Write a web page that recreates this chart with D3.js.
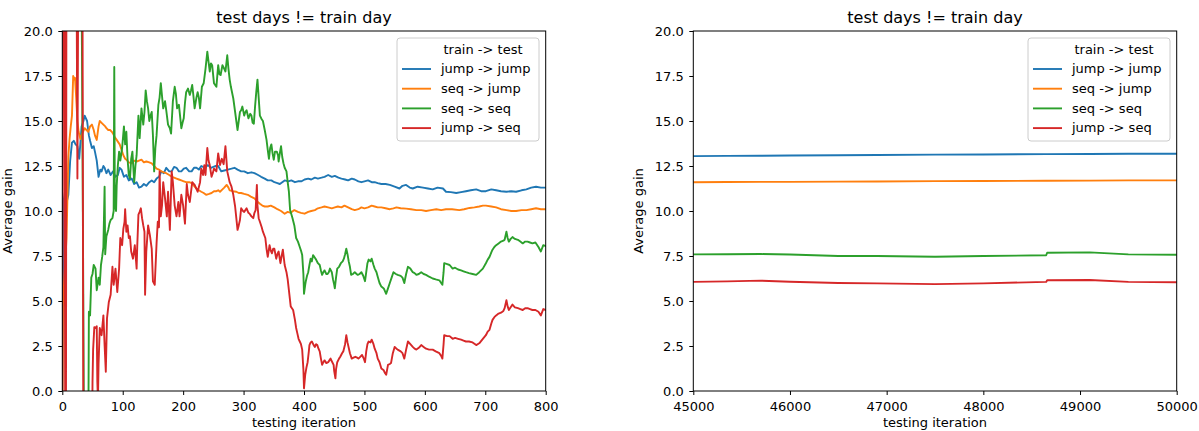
<!DOCTYPE html>
<html><head><meta charset="utf-8">
<script src="https://cdn.jsdelivr.net/npm/d3@7"></script>
<style>
body{margin:0;background:#fff;}
text{font-family:"DejaVu Sans",sans-serif;}
</style></head>
<body><svg id="chart" width="1199" height="431"></svg>
<script>
// ---------- DATA ----------
const seriesNames = ["jump -> jump", "seq -> jump", "seq -> seq", "jump -> seq"];
const seriesColors = ["#1f77b4", "#ff7f0e", "#2ca02c", "#d62728"];
const legendTitle = "train -> test";
const plotTitle = "test days != train day";
const xLabel = "testing iteration";
const yLabel = "Average gain";
const yTicks = [0, 2.5, 5, 7.5, 10, 12.5, 15, 17.5, 20];
const leftXTicks = [0, 100, 200, 300, 400, 500, 600, 700, 800];
const rightXTicks = [45000, 46000, 47000, 48000, 49000, 50000];

// left panel: [iteration, average gain]
const leftJumpJump = [[0,-1],[1,5.0],[2,10.5],[5,11.2],[8,10.6],[10,10.9],[13,12.8],[16,13.8],[19,13.9],[22,13.7],[25,13.6],[28,12.9],[32,14.7],[35,15.0],[37,15.3],[41,15.0],[44,14.2],[46,13.9],[49,13.5],[52,13.6],[54,13.3],[57,12.8],[60,11.9],[63,12.3],[65,12.2],[68,12.5],[70,12.4],[73,12.1],[76,12.3],[80,12.0],[84,12.2],[88,11.9],[92,12.0],[95,12.4],[98,12.3],[102,11.9],[106,12.0],[110,11.7],[115,11.8],[119,11.5],[123,11.6],[127,11.3],[131,11.35],[135,11.5],[139,11.4],[144,11.6],[148,11.7],[152,11.6],[156,11.8],[160,11.9],[164,12.2],[168,12.1],[172,12.4],[177,12.2],[181,12.2],[185,12.45],[189,12.4],[193,12.2],[197,12.2],[201,12.35],[205,12.4],[210,12.2],[214,12.2],[218,12.4],[222,12.4],[226,12.3],[230,12.5],[236,12.4],[241,12.55],[246,12.4],[250,12.45],[254,12.5],[258,12.5],[263,12.2],[268,12.25],[274,12.3],[280,12.35],[285,12.4],[290,12.3],[296,12.2],[301,12.2],[307,12.1],[313,12.15],[318,12.1],[324,12.0],[329,11.9],[335,11.8],[340,11.7],[346,11.7],[351,11.6],[356,11.55],[360,11.5],[364,11.6],[368,11.7],[374,11.65],[379,11.7],[385,11.6],[390,11.65],[396,11.65],[401,11.75],[407,11.8],[412,11.75],[418,11.85],[423,11.8],[429,11.85],[434,11.9],[440,12.0],[446,11.9],[451,11.95],[457,11.85],[462,11.8],[468,11.75],[473,11.7],[479,11.8],[484,11.75],[490,11.65],[495,11.6],[500,11.65],[506,11.7],[512,11.6],[517,11.6],[522,11.55],[528,11.5],[535,11.5],[542,11.45],[550,11.35],[558,11.25],[563,11.4],[569,11.45],[575,11.3],[580,11.25],[588,11.35],[597,11.3],[605,11.25],[613,11.2],[621,11.3],[630,11.25],[635,11.07],[643,11.05],[652,11.0],[660,11.05],[668,11.1],[676,11.15],[685,11.2],[693,11.1],[701,11.1],[710,11.2],[718,11.15],[726,11.1],[735,11.07],[743,11.1],[751,11.07],[760,11.15],[768,11.2],[776,11.3],[784,11.35],[792,11.3],[800,11.3]];

const leftSeqJump = [[0,-3],[1,4.8],[3,6.0],[5,7.3],[7,8.5],[9,11.5],[10,13.0],[12,14.0],[14,14.7],[16,15.3],[18,17.5],[20,17.3],[21,17.4],[23,16.3],[25,15.0],[27,14.4],[30,14.0],[33,14.3],[37,14.6],[40,14.5],[43,14.4],[46,14.7],[49,14.8],[52,14.5],[54,14.2],[57,13.95],[60,14.7],[62,15.0],[65,14.9],[68,14.8],[71,14.7],[73,14.6],[76,14.5],[79,14.5],[82,14.4],[84,14.3],[87,14.1],[90,13.95],[93,13.8],[95,13.7],[98,13.4],[101,13.1],[104,12.9],[106,12.85],[110,12.7],[115,12.65],[119,12.8],[123,12.75],[127,12.8],[131,12.85],[135,12.7],[139,12.75],[144,12.7],[148,12.65],[152,12.5],[156,12.35],[160,12.3],[164,12.2],[168,12.15],[172,12.1],[177,12.0],[181,11.9],[185,11.85],[189,11.8],[193,11.75],[197,11.7],[201,11.65],[205,11.6],[210,11.6],[214,11.55],[218,11.4],[222,11.25],[226,11.15],[230,11.07],[234,11.0],[238,10.9],[243,10.95],[247,11.0],[251,11.1],[255,11.1],[258,11.15],[261,11.07],[265,11.2],[268,11.3],[272,11.45],[275,11.3],[277,11.15],[282,11.1],[288,11.07],[292,11.0],[296,11.0],[301,10.95],[307,10.9],[312,10.8],[318,10.7],[322,10.55],[327,10.4],[331,10.3],[335,10.25],[340,10.25],[345,10.3],[351,10.2],[356,10.1],[362,10.0],[368,9.85],[373,9.95],[378,9.9],[384,10.05],[390,9.95],[395,9.9],[401,9.85],[407,9.95],[412,10.0],[418,10.05],[423,10.15],[429,10.2],[434,10.25],[440,10.2],[446,10.15],[451,10.2],[456,10.25],[462,10.2],[467,10.3],[473,10.2],[479,10.1],[484,10.05],[490,10.1],[495,10.2],[500,10.15],[506,10.2],[512,10.3],[517,10.25],[522,10.2],[528,10.2],[535,10.15],[542,10.1],[548,10.15],[553,10.2],[560,10.15],[569,10.13],[577,10.1],[586,10.05],[594,10.05],[602,10.0],[610,10.05],[619,10.1],[627,10.05],[635,10.1],[645,10.1],[657,10.05],[665,10.1],[674,10.17],[682,10.2],[690,10.25],[696,10.3],[701,10.3],[710,10.25],[718,10.2],[726,10.1],[735,10.05],[743,10.0],[751,10.0],[760,10.05],[768,10.05],[776,10.1],[784,10.15],[792,10.1],[800,10.1]];

const leftSeqSeq = [[0,30],[30,30],[32,22],[34,10],[36,-3],[43,-3],[44,4.4],[46,4.2],[48,6.3],[50,6.5],[52,7.0],[55,6.8],[57,5.6],[60,6.3],[62,5.9],[64,7.0],[66,7.45],[68,8.0],[70,11.35],[71,7.6],[73,8.6],[76,8.95],[78,9.3],[80,9.5],[83,9.6],[85,10.0],[86,18.0],[87,10.3],[89,10.0],[90,11.4],[92,12.55],[94,13.3],[96,12.8],[99,13.5],[102,14.7],[104,13.7],[106,14.4],[108,12.9],[110,12.0],[112,11.8],[114,12.9],[116,13.3],[119,11.6],[121,12.5],[123,13.1],[126,15.3],[128,14.05],[131,15.7],[134,14.8],[136,15.5],[138,16.7],[140,16.1],[142,15.7],[144,15.0],[146,15.3],[148,15.5],[150,14.2],[152,12.2],[154,13.5],[156,14.2],[159,15.9],[161,16.3],[163,17.1],[165,16.4],[167,15.7],[170,16.1],[172,15.6],[175,14.8],[178,14.6],[180,14.3],[183,16.1],[186,16.9],[188,16.5],[190,15.7],[193,15.9],[197,14.6],[199,14.9],[201,15.15],[203,16.0],[205,16.6],[208,16.8],[211,16.45],[213,16.7],[215,17.0],[217,16.4],[219,15.7],[222,16.3],[224,16.6],[226,16.3],[228,15.7],[231,16.9],[234,17.1],[237,17.9],[240,18.85],[242,18.3],[244,17.75],[246,18.2],[248,18.1],[251,17.1],[253,17.0],[255,16.9],[258,18.1],[260,17.6],[262,17.55],[265,18.1],[268,17.9],[270,17.75],[273,18.65],[275,17.9],[277,17.3],[279,16.9],[283,16.25],[286,15.5],[288,15.0],[290,14.5],[292,15.0],[294,15.5],[296,15.6],[298,15.8],[301,15.3],[303,15.5],[305,15.6],[308,15.15],[311,15.4],[313,15.3],[315,14.9],[317,14.85],[319,15.8],[321,16.6],[323,17.3],[325,16.3],[327,15.3],[330,15.1],[332,15.0],[335,14.5],[338,13.95],[340,13.4],[342,12.9],[344,13.5],[346,13.7],[348,13.2],[350,12.85],[352,13.3],[355,13.3],[357,13.1],[358,12.75],[360,13.2],[362,13.6],[364,13.0],[366,12.65],[368,12.4],[371,12.2],[373,11.6],[375,11.07],[377,10.05],[378,9.95],[381,9.6],[384,9.2],[387,8.5],[390,8.3],[393,8.0],[395,7.8],[397,7.55],[399,6.5],[400,5.4],[402,5.9],[403,6.1],[405,6.4],[407,6.6],[409,7.0],[411,7.35],[413,7.2],[415,7.55],[418,7.4],[420,7.3],[423,7.1],[426,7.0],[428,6.7],[430,6.45],[432,6.6],[434,6.7],[437,6.5],[439,6.5],[441,6.6],[443,6.8],[446,6.6],[448,6.2],[450,5.9],[451,5.7],[453,6.3],[455,6.8],[458,6.9],[461,7.1],[464,7.2],[466,7.35],[468,7.6],[470,7.9],[472,7.6],[474,7.2],[476,6.9],[478,6.45],[481,6.5],[484,6.6],[487,6.5],[489,6.45],[492,6.5],[495,6.6],[498,6.4],[501,6.1],[503,6.6],[505,7.1],[507,7.3],[510,7.2],[512,7.35],[515,7.0],[517,6.8],[520,6.6],[522,6.35],[525,6.0],[528,5.8],[532,5.7],[536,5.4],[539,5.7],[542,6.0],[545,6.3],[548,6.6],[552,6.5],[555,6.45],[560,6.4],[563,6.3],[566,6.0],[569,6.5],[572,6.9],[576,6.8],[580,6.6],[583,6.55],[586,6.45],[590,6.5],[594,6.6],[598,6.5],[602,6.45],[607,6.35],[613,6.25],[618,6.2],[624,6.15],[627,6.0],[629,5.9],[631,6.6],[632,7.1],[637,7.05],[641,7.0],[646,6.8],[650,6.85],[655,6.75],[660,6.7],[664,6.65],[668,6.6],[673,6.55],[679,6.5],[685,6.45],[690,6.6],[696,6.8],[701,7.1],[704,7.3],[707,7.45],[710,7.7],[712,7.85],[715,8.0],[718,8.1],[722,8.2],[726,8.3],[730,8.35],[732,8.4],[735,8.85],[737,8.5],[739,8.3],[742,8.45],[745,8.55],[749,8.45],[754,8.4],[758,8.3],[762,8.2],[766,8.3],[770,8.3],[774,8.25],[778,8.2],[783,8.25],[788,8.0],[792,7.75],[796,8.1],[800,8.05]];

const leftJumpSeq = [[0,-5],[1,30],[3,30],[5,-5],[6,-5],[7,30],[23,30],[24,20],[25,11.8],[26,20],[27,30],[33,30],[35,-5],[49,-5],[50,0.5],[51,2.3],[53,3.55],[55,3.5],[57,3.6],[58,0.5],[59,-0.5],[60,1.5],[62,3.5],[65,3.1],[68,4.2],[70,2.55],[72,1.07],[74,4.05],[77,4.95],[80,5.35],[83,6.9],[85,5.9],[88,6.8],[91,5.5],[94,6.8],[96,8.5],[99,8.1],[101,9.0],[103,9.4],[104,10.1],[106,8.85],[108,9.2],[110,8.5],[112,8.6],[114,7.75],[117,7.35],[120,8.1],[123,6.8],[124,8.0],[126,9.8],[128,9.95],[130,10.15],[132,9.6],[134,9.2],[136,8.85],[137,5.35],[139,7.75],[142,9.2],[145,8.65],[148,7.9],[150,6.1],[153,5.9],[156,8.2],[158,9.4],[160,9.1],[161,12.2],[163,9.7],[165,10.3],[167,11.6],[170,10.7],[173,9.7],[175,11.07],[178,8.95],[181,12.2],[183,11.6],[186,10.3],[189,9.7],[192,10.5],[194,9.7],[197,10.9],[200,10.3],[203,9.3],[206,11.5],[208,10.9],[211,10.5],[215,11.6],[219,11.45],[224,11.07],[228,11.6],[230,12.35],[233,12.0],[235,12.55],[237,12.0],[240,13.5],[242,12.8],[244,12.55],[247,11.9],[249,12.1],[251,12.35],[255,12.2],[258,13.2],[261,12.55],[264,12.9],[267,12.6],[270,13.6],[273,12.2],[277,11.6],[280,11.35],[283,10.9],[286,10.25],[288,9.6],[290,8.95],[292,9.2],[294,9.5],[296,10.15],[299,10.0],[301,9.95],[305,10.15],[308,9.9],[310,9.85],[313,9.7],[316,9.6],[318,9.9],[320,10.05],[322,11.45],[323,10.3],[325,9.6],[327,9.4],[330,9.1],[332,8.85],[336,8.5],[338,7.9],[340,7.45],[343,8.1],[345,7.8],[347,7.65],[349,7.9],[351,7.9],[354,7.35],[356,7.6],[358,7.75],[361,7.1],[363,7.5],[365,7.85],[368,7.0],[371,6.6],[373,6.2],[375,5.6],[378,4.7],[380,4.6],[382,4.5],[385,3.95],[387,3.5],[389,3.2],[391,2.9],[393,2.75],[395,2.6],[397,2.3],[399,1.2],[400,0.15],[402,0.9],[404,1.3],[406,1.6],[408,2.2],[409,2.55],[411,2.7],[413,2.75],[416,2.55],[418,2.45],[420,2.6],[422,2.55],[424,2.35],[426,2.2],[428,1.8],[430,1.45],[432,1.6],[434,1.7],[437,1.55],[440,1.6],[442,1.7],[444,1.8],[446,1.65],[449,1.45],[450,1.1],[452,0.7],[453,1.2],[455,1.6],[458,1.8],[460,1.9],[463,2.1],[465,2.2],[468,2.6],[470,3.1],[472,2.7],[474,2.4],[476,2.1],[479,1.8],[482,1.85],[485,1.9],[488,1.85],[490,1.8],[493,1.9],[496,2.0],[499,1.8],[501,1.6],[503,2.2],[505,2.6],[507,2.75],[510,2.7],[512,2.85],[515,2.6],[517,2.35],[520,2.1],[522,1.8],[525,1.6],[528,1.25],[532,1.15],[534,1.0],[536,0.9],[539,1.45],[542,1.5],[544,1.55],[547,2.1],[550,2.45],[553,2.35],[555,2.3],[560,2.2],[563,2.1],[566,1.8],[569,2.3],[572,2.75],[576,2.6],[580,2.45],[583,2.35],[586,2.3],[590,2.4],[594,2.55],[598,2.45],[602,2.35],[607,2.3],[613,2.3],[618,2.2],[624,2.1],[627,1.95],[629,1.8],[631,2.6],[632,3.1],[637,3.05],[641,3.05],[646,2.9],[650,2.95],[655,2.9],[660,2.85],[664,2.8],[668,2.75],[673,2.75],[679,2.7],[685,2.55],[690,2.65],[696,2.9],[701,3.1],[704,3.3],[707,3.4],[710,3.75],[712,3.95],[715,4.1],[718,4.2],[722,4.3],[726,4.35],[730,4.45],[732,4.6],[735,5.05],[737,4.7],[739,4.5],[742,4.65],[745,4.8],[749,4.65],[754,4.6],[758,4.55],[762,4.5],[766,4.6],[770,4.6],[774,4.55],[778,4.5],[783,4.5],[788,4.4],[792,4.2],[796,4.55],[800,4.5]];

// right panel
const rightIter      = [45000, 45350, 45700, 46000, 46500, 46900, 47500, 48000, 48650, 48660, 49100, 49500, 50000];
const rightJumpJump  = [13.05, 13.06, 13.07, 13.08, 13.10, 13.11, 13.13, 13.14, 13.16, 13.16, 13.17, 13.18, 13.18];
const rightSeqJump   = [11.60, 11.61, 11.62, 11.62, 11.63, 11.64, 11.66, 11.67, 11.68, 11.68, 11.69, 11.70, 11.70];
const rightSeqSeq    = [7.59, 7.60, 7.61, 7.58, 7.50, 7.50, 7.46, 7.50, 7.54, 7.68, 7.70, 7.59, 7.57];
const rightJumpSeq   = [6.06, 6.09, 6.13, 6.07, 6.00, 5.98, 5.94, 5.98, 6.06, 6.15, 6.17, 6.06, 6.04];

// ---------- DRAW ----------
const svg = d3.select("#chart");
const plotTop = 31, plotBottom = 391;
const fs = 13;

function panel(id, x0, x1, xDomain, xTicks, seriesList, legendX) {
  const g = svg.append("g");
  const x = d3.scaleLinear().domain(xDomain).range([x0, x1]);
  const y = d3.scaleLinear().domain([0, 20]).range([plotBottom, plotTop]);

  g.append("clipPath").attr("id", "clip" + id)
    .append("rect").attr("x", x0).attr("y", plotTop).attr("width", x1 - x0).attr("height", plotBottom - plotTop);

  const line = d3.line().x(d => x(d[0])).y(d => y(d[1]));
  const lines = g.append("g").attr("clip-path", `url(#clip${id})`);
  seriesList.forEach((s, i) => {
    lines.append("path").datum(s)
      .attr("d", line).attr("fill", "none")
      .attr("stroke", seriesColors[i]).attr("stroke-width", 1.9)
      .attr("stroke-linejoin", "round").attr("stroke-linecap", "square");
  });

  const ax = g.append("g").attr("transform", `translate(0,${plotBottom})`)
    .call(d3.axisBottom(x).tickValues(xTicks).tickFormat(d3.format("d")).tickSize(4).tickSizeOuter(0).tickPadding(6.5));
  const ay = g.append("g").attr("transform", `translate(${x0},0)`)
    .call(d3.axisLeft(y).tickValues(yTicks).tickFormat(d3.format(".1f")).tickSize(4).tickSizeOuter(0).tickPadding(5.5));
  [ax, ay].forEach(a => {
    a.select(".domain").remove();
    a.selectAll("text").attr("font-size", fs).attr("font-family", "DejaVu Sans").attr("fill", "#000");
    a.selectAll("line").attr("stroke", "#000").attr("stroke-width", 1);
  });

  g.append("rect").attr("x", x0).attr("y", plotTop).attr("width", x1 - x0).attr("height", plotBottom - plotTop)
    .attr("fill", "none").attr("stroke", "#000").attr("stroke-width", 1);

  g.append("text").attr("x", (x0 + x1) / 2).attr("y", 22.5).attr("text-anchor", "middle")
    .attr("font-size", 16).attr("fill", "#000").text(plotTitle);
  g.append("text").attr("x", (x0 + x1) / 2).attr("y", 427).attr("text-anchor", "middle")
    .attr("font-size", fs).attr("fill", "#000").text(xLabel);
  g.append("text").attr("transform", `translate(${x0 - 50},${(plotTop + plotBottom) / 2}) rotate(-90)`)
    .attr("text-anchor", "middle").attr("font-size", fs).attr("fill", "#000").text(yLabel);

  const lg = g.append("g").attr("transform", `translate(${legendX},38)`);
  lg.append("rect").attr("x", 0).attr("y", 0).attr("width", 142).attr("height", 103)
    .attr("rx", 3).attr("fill", "#fff").attr("fill-opacity", 0.8)
    .attr("stroke", "#cccccc").attr("stroke-width", 1);
  lg.append("text").attr("x", 86).attr("y", 15.5).attr("text-anchor", "middle")
    .attr("font-size", fs).attr("fill", "#000").text(legendTitle);
  seriesNames.forEach((n, i) => {
    const yy = 31 + i * 19.7;
    lg.append("line").attr("x1", 5).attr("x2", 34).attr("y1", yy).attr("y2", yy)
      .attr("stroke", seriesColors[i]).attr("stroke-width", 1.9);
    lg.append("text").attr("x", 44).attr("y", yy + 4.3).attr("font-size", fs).attr("fill", "#000").text(n);
  });
}

panel("L", 62.3, 545.7, [0, 800], leftXTicks,
  [leftJumpJump, leftSeqJump, leftSeqSeq, leftJumpSeq], 397);

const toPairs = vals => rightIter.map((it, i) => [it, vals[i]]);
panel("R", 693.3, 1176.7, [45000, 50000], rightXTicks,
  [toPairs(rightJumpJump), toPairs(rightSeqJump), toPairs(rightSeqSeq), toPairs(rightJumpSeq)], 1028);
</script>
</body></html>
